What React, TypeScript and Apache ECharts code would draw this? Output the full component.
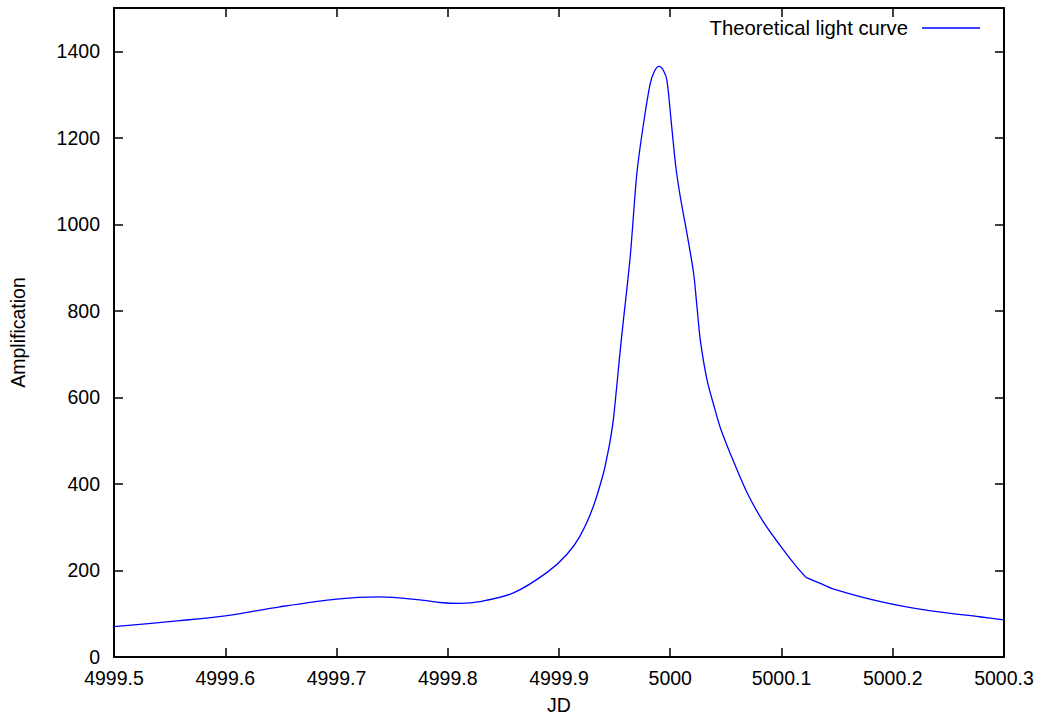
import React, { useEffect, useRef } from "react";
import * as echarts from "echarts";

const JD = [
  4999.5, 4999.559, 4999.6, 4999.649, 4999.7, 4999.739, 4999.775, 4999.793, 4999.811,
  4999.829, 4999.859, 4999.889, 4999.907, 4999.919, 4999.931, 4999.94, 4999.943, 4999.946,
  4999.949, 4999.956, 4999.964, 4999.97, 4999.976, 4999.982, 4999.986, 4999.99, 4999.994,
  4999.997, 5000.001, 5000.005, 5000.009, 5000.015, 5000.021, 5000.024, 5000.027, 5000.033,
  5000.039, 5000.045, 5000.054, 5000.069, 5000.084, 5000.099, 5000.114, 5000.122, 5000.135,
  5000.147, 5000.189, 5000.233, 5000.278, 5000.3,
];
const AMPLIFICATION = [
  70, 84, 95, 116, 134, 139, 132, 126, 124,
  128, 148, 195, 237, 280, 349, 425, 460, 500,
  552, 733, 925, 1118, 1233, 1325, 1355, 1365, 1355,
  1333, 1234, 1133, 1064, 979, 887, 810, 733, 641,
  583, 530, 470, 380, 311, 257, 207, 184, 170,
  157, 128, 107, 93, 86,
];
// the curve has a sharp corner here
const KINK_JD = 5000.122;
const SERIES_NAME = "Theoretical light curve";
const X_AXIS_NAME = "JD";
const Y_AXIS_NAME = "Amplification";

const FONT = "Liberation Sans";
const FS = 19.5;

export default function App() {
  const ref = useRef<HTMLDivElement>(null);
  useEffect(() => {
    if (!ref.current) return;
    const chart = echarts.init(ref.current, null, { renderer: "svg" });
    const fmt = (v: number) => String(parseFloat(v.toFixed(4)));
    const tickStyle = { show: true, inside: true, length: 9, lineStyle: { color: "#000", width: 1.5 } };
    const lineStyle = { show: true, lineStyle: { color: "#000", width: 2 } };
    const xBase = { type: "value", min: 4999.5, max: 5000.3, interval: 0.1, splitLine: { show: false } };
    const yBase = { type: "value", min: 0, max: 1500, interval: 200, splitLine: { show: false } };
    const pts = JD.map((x, i) => [x, AMPLIFICATION[i]]);
    const before = pts.filter((p) => p[0] <= KINK_JD);
    const after = pts.filter((p) => p[0] >= KINK_JD);
    const seriesBase = {
      name: SERIES_NAME,
      type: "line",
      xAxisIndex: 0,
      yAxisIndex: 0,
      symbol: "none",
      smooth: 0.3,
      lineStyle: { color: "#0000ff", width: 1.3 },
      itemStyle: { color: "#0000ff" },
    };
    chart.setOption({
      animation: false,
      backgroundColor: "#fff",
      textStyle: { fontFamily: FONT },
      grid: { left: 114, right: 34, top: 8, bottom: 62, containLabel: false },
      legend: {
        data: [SERIES_NAME],
        right: 53,
        top: 13,
        align: "right",
        icon: "rect",
        itemWidth: 58,
        itemHeight: 1.3,
        itemStyle: { color: "#0000ff" },
        textStyle: { fontFamily: FONT, fontSize: 20.3, color: "#000", padding: [0, 9, 0, 0] },
      },
      xAxis: [
        {
          ...xBase,
          position: "bottom",
          name: X_AXIS_NAME,
          nameLocation: "middle",
          nameGap: 38,
          nameTextStyle: { fontFamily: FONT, fontSize: FS, color: "#000" },
          axisLine: { ...lineStyle, onZero: false },
          axisTick: tickStyle,
          axisLabel: { show: true, margin: 11, fontFamily: FONT, fontSize: FS, color: "#000", formatter: fmt },
        },
        {
          ...xBase,
          position: "top",
          axisLine: { ...lineStyle, onZero: false },
          axisTick: tickStyle,
          axisLabel: { show: false },
        },
      ],
      yAxis: [
        {
          ...yBase,
          position: "left",
          name: Y_AXIS_NAME,
          nameLocation: "middle",
          nameGap: 86,
          nameTextStyle: { fontFamily: FONT, fontSize: FS, color: "#000" },
          axisLine: { ...lineStyle, onZero: false },
          axisTick: tickStyle,
          axisLabel: {
            show: true,
            margin: 14,
            fontFamily: FONT,
            fontSize: FS,
            color: "#000",
            showMaxLabel: false,
            formatter: fmt,
          },
        },
        {
          ...yBase,
          position: "right",
          axisLine: { ...lineStyle, onZero: false },
          axisTick: tickStyle,
          axisLabel: { show: false },
        },
      ],
      series: [
        { ...seriesBase, data: before },
        { ...seriesBase, data: after },
      ],
    });
    return () => chart.dispose();
  }, []);
  return <div ref={ref} style={{ position: "absolute", left: 0, top: 0, width: 1038, height: 720 }} />;
}
